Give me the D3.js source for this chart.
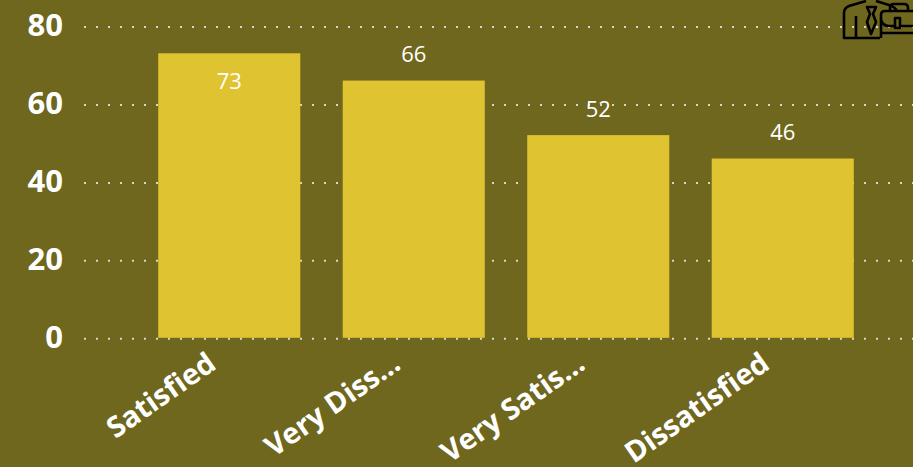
<!DOCTYPE html>
<html>
<head>
<meta charset="utf-8">
<script src="https://cdn.jsdelivr.net/npm/d3@7"></script>
<style>
  html, body { margin: 0; padding: 0; background: #6f671e; overflow: hidden; }
  text { font-family: "Open Sans", sans-serif; }
</style>
</head>
<body>
<svg id="chart"></svg>
<script>
const categories = ["Satisfied", "Very Diss...", "Very Satis...", "Dissatisfied"];
const values = [73, 66, 52, 46];
const yTicks = [0, 20, 40, 60, 80];

const width = 913, height = 467;
const svg = d3.select("#chart")
  .attr("width", width)
  .attr("height", height)
  .style("display", "block")
  .style("background", "#6f671e");

const x = d3.scaleBand()
  .domain(categories)
  .range([137, 875])
  .paddingInner(0.23)
  .paddingOuter(0.115);

const y = d3.scaleLinear()
  .domain([0, 80])
  .range([337.8, 26]);

// Dotted grid lines and y labels
const yAxis = svg.append("g")
  .attr("transform", "translate(84,0)")
  .call(d3.axisLeft(y).tickValues(yTicks).tickSize(-829).tickPadding(21));
yAxis.select(".domain").remove();
yAxis.selectAll("line")
  .attr("stroke", "#d6d6d0")
  .attr("stroke-width", 2)
  .attr("stroke-dasharray", "2 10")
  .attr("transform", "translate(0,0.5)");
yAxis.selectAll("text")
  .attr("fill", "#fff")
  .attr("font-size", 31)
  .attr("font-weight", 700)
  .style("font-family", '"Open Sans", sans-serif');

// Bars
svg.append("g")
  .selectAll("rect")
  .data(values)
  .enter()
  .append("rect")
  .attr("x", (d, i) => x(categories[i]))
  .attr("y", d => y(d))
  .attr("width", x.bandwidth())
  .attr("height", d => y(0) - y(d))
  .attr("fill", "#e0c331");

// Value labels, the tallest one does not fit above so it sits inside
svg.append("g")
  .selectAll("text")
  .data(values)
  .enter()
  .append("text")
  .attr("x", (d, i) => x(categories[i]) + x.bandwidth() / 2)
  .attr("y", d => y(d) - 26 < 40 ? y(d) + 28 : y(d) - 26)
  .attr("dy", "0.35em")
  .attr("text-anchor", "middle")
  .attr("fill", "#fff")
  .attr("font-size", 22)
  .text(d => d);

// Rotated category labels
svg.append("g")
  .selectAll("text")
  .data(categories)
  .enter()
  .append("text")
  .attr("transform", d => `translate(${x(d) + x.bandwidth() / 2 - 23},351) rotate(-35)`)
  .attr("text-anchor", "end")
  .attr("dy", "0.7em")
  .attr("fill", "#fff")
  .attr("font-size", 29)
  .attr("font-weight", 700)
  .text(d => d);

// Suit and briefcase icon, cut off by the corner of the page
const icon = svg.append("g")
  .attr("fill", "none")
  .attr("stroke", "#000")
  .attr("stroke-width", 2.6)
  .attr("stroke-linejoin", "round");
icon.append("path").attr("d", "M880,38 H844 V13 Q844,8 849,6 L866,1 M876,1 L889,5 Q895,7 897,11");
icon.append("path").attr("d", "M856,16 V37");
icon.append("path").attr("d", "M867,7 L876,7 L873,14 L876,22 L871,34 L867,22 L870,14 Z");
icon.append("path").attr("d", "M881,38 V15 Q881,11 885,11 H920");
icon.append("path").attr("d", "M881,33 H920 M881,20 Q883,26 889,26 H895 M900,26 H920");
icon.append("path").attr("d", "M895,18 H900 V28 H895 Z");
icon.append("path").attr("d", "M890,11 V7 Q890,4 894,4 H904 Q908,4 908,8 V11");
</script>
</body>
</html>
